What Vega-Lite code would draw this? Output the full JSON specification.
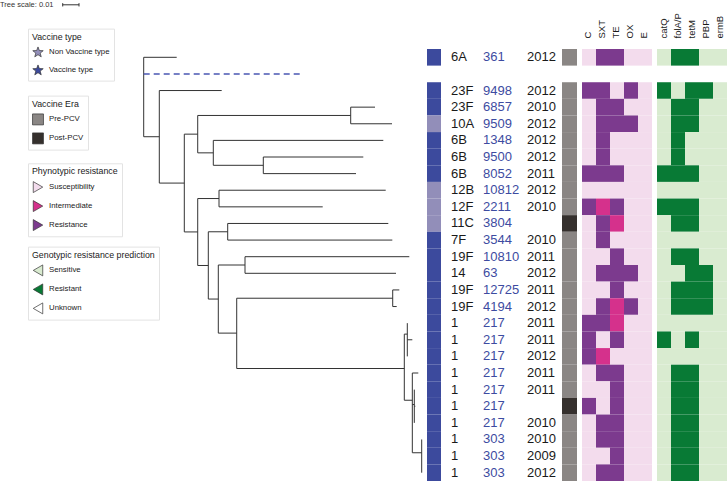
{
  "$schema": "https://vega.github.io/schema/vega-lite/v6.json",
  "padding": 0,
  "background": "white",
  "bounds": "flush",
  "spacing": 0,
  "config": {
    "view": {"stroke": null},
    "font": "Liberation Sans",
    "legend": {
      "titleFontSize": 8.8, "titleFontWeight": "normal", "titleColor": "#1a1a1a",
      "labelFontSize": 7.8, "labelColor": "#1a1a1a", "strokeColor": "#e3e3e3",
      "padding": 4, "symbolSize": 120, "rowPadding": 5, "titlePadding": 5,
      "labelOffset": 5, "symbolStrokeColor": "#333", "symbolStrokeWidth": 0.7
    }
  },
  "datasets": {
    "rows": [
      {"r":-2,"sero":"6A","st":"361","year":"2012","vt":"V","era":"Pre-PCV","C":"S","SXT":"R","TE":"R","OX":"S","E":"S","catQ":"S","folA/P":"R","tetM":"R","PBP":"S","ermB":"S"},
      {"r":0,"sero":"23F","st":"9498","year":"2012","vt":"V","era":"Pre-PCV","C":"R","SXT":"R","TE":"S","OX":"R","E":"S","catQ":"R","folA/P":"S","tetM":"R","PBP":"R","ermB":"S"},
      {"r":1,"sero":"23F","st":"6857","year":"2010","vt":"V","era":"Pre-PCV","C":"S","SXT":"R","TE":"R","OX":"S","E":"S","catQ":"S","folA/P":"R","tetM":"R","PBP":"S","ermB":"S"},
      {"r":2,"sero":"10A","st":"9509","year":"2012","vt":"NV","era":"Pre-PCV","C":"S","SXT":"R","TE":"R","OX":"R","E":"S","catQ":"S","folA/P":"R","tetM":"R","PBP":"S","ermB":"S"},
      {"r":3,"sero":"6B","st":"1348","year":"2012","vt":"V","era":"Pre-PCV","C":"S","SXT":"R","TE":"S","OX":"S","E":"S","catQ":"S","folA/P":"R","tetM":"S","PBP":"S","ermB":"S"},
      {"r":4,"sero":"6B","st":"9500","year":"2012","vt":"V","era":"Pre-PCV","C":"S","SXT":"R","TE":"S","OX":"S","E":"S","catQ":"S","folA/P":"R","tetM":"S","PBP":"S","ermB":"S"},
      {"r":5,"sero":"6B","st":"8052","year":"2011","vt":"V","era":"Pre-PCV","C":"R","SXT":"R","TE":"R","OX":"S","E":"S","catQ":"R","folA/P":"R","tetM":"R","PBP":"S","ermB":"S"},
      {"r":6,"sero":"12B","st":"10812","year":"2012","vt":"NV","era":"Pre-PCV","C":"S","SXT":"S","TE":"S","OX":"S","E":"S","catQ":"S","folA/P":"S","tetM":"S","PBP":"S","ermB":"S"},
      {"r":7,"sero":"12F","st":"2211","year":"2010","vt":"NV","era":"Pre-PCV","C":"R","SXT":"I","TE":"R","OX":"S","E":"S","catQ":"R","folA/P":"R","tetM":"R","PBP":"S","ermB":"S"},
      {"r":8,"sero":"11C","st":"3804","year":"","vt":"NV","era":"Post-PCV","C":"S","SXT":"R","TE":"I","OX":"S","E":"S","catQ":"S","folA/P":"R","tetM":"R","PBP":"S","ermB":"S"},
      {"r":9,"sero":"7F","st":"3544","year":"2010","vt":"V","era":"Pre-PCV","C":"S","SXT":"R","TE":"S","OX":"S","E":"S","catQ":"S","folA/P":"S","tetM":"S","PBP":"S","ermB":"S"},
      {"r":10,"sero":"19F","st":"10810","year":"2011","vt":"V","era":"Pre-PCV","C":"S","SXT":"S","TE":"R","OX":"S","E":"S","catQ":"S","folA/P":"R","tetM":"R","PBP":"S","ermB":"S"},
      {"r":11,"sero":"14","st":"63","year":"2012","vt":"V","era":"Pre-PCV","C":"S","SXT":"R","TE":"R","OX":"R","E":"S","catQ":"S","folA/P":"S","tetM":"R","PBP":"R","ermB":"S"},
      {"r":12,"sero":"19F","st":"12725","year":"2011","vt":"V","era":"Pre-PCV","C":"S","SXT":"S","TE":"R","OX":"S","E":"S","catQ":"S","folA/P":"R","tetM":"R","PBP":"R","ermB":"S"},
      {"r":13,"sero":"19F","st":"4194","year":"2012","vt":"V","era":"Pre-PCV","C":"S","SXT":"R","TE":"I","OX":"R","E":"S","catQ":"S","folA/P":"R","tetM":"R","PBP":"R","ermB":"S"},
      {"r":14,"sero":"1","st":"217","year":"2011","vt":"V","era":"Pre-PCV","C":"R","SXT":"R","TE":"I","OX":"S","E":"S","catQ":"S","folA/P":"S","tetM":"S","PBP":"S","ermB":"S"},
      {"r":15,"sero":"1","st":"217","year":"2011","vt":"V","era":"Pre-PCV","C":"R","SXT":"S","TE":"R","OX":"S","E":"S","catQ":"R","folA/P":"S","tetM":"R","PBP":"S","ermB":"S"},
      {"r":16,"sero":"1","st":"217","year":"2012","vt":"V","era":"Pre-PCV","C":"R","SXT":"I","TE":"S","OX":"S","E":"S","catQ":"S","folA/P":"S","tetM":"S","PBP":"S","ermB":"S"},
      {"r":17,"sero":"1","st":"217","year":"2011","vt":"V","era":"Pre-PCV","C":"S","SXT":"R","TE":"R","OX":"S","E":"S","catQ":"S","folA/P":"R","tetM":"R","PBP":"S","ermB":"S"},
      {"r":18,"sero":"1","st":"217","year":"2011","vt":"V","era":"Pre-PCV","C":"S","SXT":"S","TE":"R","OX":"S","E":"S","catQ":"S","folA/P":"R","tetM":"R","PBP":"S","ermB":"S"},
      {"r":19,"sero":"1","st":"217","year":"","vt":"V","era":"Post-PCV","C":"R","SXT":"S","TE":"R","OX":"S","E":"S","catQ":"S","folA/P":"R","tetM":"R","PBP":"S","ermB":"S"},
      {"r":20,"sero":"1","st":"217","year":"2010","vt":"V","era":"Pre-PCV","C":"S","SXT":"R","TE":"R","OX":"S","E":"S","catQ":"S","folA/P":"R","tetM":"R","PBP":"S","ermB":"S"},
      {"r":21,"sero":"1","st":"303","year":"2010","vt":"V","era":"Pre-PCV","C":"S","SXT":"R","TE":"R","OX":"S","E":"S","catQ":"S","folA/P":"R","tetM":"R","PBP":"S","ermB":"S"},
      {"r":22,"sero":"1","st":"303","year":"2009","vt":"V","era":"Pre-PCV","C":"S","SXT":"S","TE":"R","OX":"S","E":"S","catQ":"S","folA/P":"R","tetM":"R","PBP":"S","ermB":"S"},
      {"r":23,"sero":"1","st":"303","year":"2012","vt":"V","era":"Pre-PCV","C":"S","SXT":"R","TE":"R","OX":"S","E":"S","catQ":"S","folA/P":"R","tetM":"R","PBP":"S","ermB":"S"}
    ],
    "hedges": [
      {"x":0,"x2":0.02025,"y":-2},
      {"x":0,"x2":0.00957,"y":2.78},
      {"x":0.00957,"x2":0.04785,"y":0},
      {"x":0.00957,"x2":0.02491,"y":5.57},
      {"x":0.02491,"x2":0.03313,"y":2.625},
      {"x":0.03313,"x2":0.12699,"y":1.5},
      {"x":0.12699,"x2":0.14190,"y":1},
      {"x":0.12699,"x2":0.15233,"y":2},
      {"x":0.03313,"x2":0.04270,"y":3.75},
      {"x":0.04270,"x2":0.14699,"y":3},
      {"x":0.04270,"x2":0.07337,"y":4.5},
      {"x":0.07337,"x2":0.13472,"y":4},
      {"x":0.07337,"x2":0.13025,"y":5},
      {"x":0.02491,"x2":0.03313,"y":8.51},
      {"x":0.03313,"x2":0.04620,"y":6.5},
      {"x":0.04620,"x2":0.14847,"y":6},
      {"x":0.04620,"x2":0.10982,"y":7},
      {"x":0.03313,"x2":0.03963,"y":10.53},
      {"x":0.03963,"x2":0.05153,"y":8.5},
      {"x":0.05153,"x2":0.15006,"y":8},
      {"x":0.05153,"x2":0.15252,"y":9},
      {"x":0.03963,"x2":0.04577,"y":12.55},
      {"x":0.04577,"x2":0.06215,"y":10.5},
      {"x":0.06215,"x2":0.16294,"y":10},
      {"x":0.06215,"x2":0.15479,"y":11},
      {"x":0.04577,"x2":0.05706,"y":14.6},
      {"x":0.05706,"x2":0.15276,"y":12.5},
      {"x":0.15276,"x2":0.15681,"y":12},
      {"x":0.15276,"x2":0.15521,"y":13},
      {"x":0.05706,"x2":0.15988,"y":16.73},
      {"x":0.15988,"x2":0.16172,"y":14.66},
      {"x":0.16172,"x2":0.16479,"y":15},
      {"x":0.15988,"x2":0.16479,"y":18.64},
      {"x":0.16479,"x2":0.16847,"y":17},
      {"x":0.16479,"x2":0.16601,"y":18.9},
      {"x":0.16601,"x2":0.16663,"y":19},
      {"x":0.16479,"x2":0.17055,"y":21.8}
    ],
    "vedges": [
      {"x":0,"y":-2,"y2":2.78},
      {"x":0.00957,"y":0,"y2":5.57},
      {"x":0.02491,"y":2.625,"y2":8.51},
      {"x":0.03313,"y":1.5,"y2":3.75},
      {"x":0.12699,"y":1,"y2":2},
      {"x":0.04270,"y":3,"y2":4.5},
      {"x":0.07337,"y":4,"y2":5},
      {"x":0.03313,"y":6.5,"y2":10.53},
      {"x":0.04620,"y":6,"y2":7},
      {"x":0.03963,"y":8.5,"y2":12.55},
      {"x":0.05153,"y":8,"y2":9},
      {"x":0.04577,"y":10.5,"y2":14.6},
      {"x":0.06215,"y":10,"y2":11},
      {"x":0.05706,"y":12.5,"y2":16.73},
      {"x":0.15276,"y":12,"y2":13},
      {"x":0.15988,"y":14.66,"y2":18.64},
      {"x":0.16172,"y":14,"y2":16},
      {"x":0.16479,"y":17,"y2":21.8},
      {"x":0.16601,"y":18,"y2":20},
      {"x":0.17055,"y":21,"y2":23}
    ],
    "outgroup": [{"x":0,"x2":0.09773,"y":-1}]
  },
  "resolve": {"scale": {"color": "independent", "x": "independent", "y": "independent"}, "legend": {"color": "independent"}},
  "hconcat": [
    {
      "width": 427, "height": 432,
      "layer": [
        {
          "data": {"name": "hedges"},
          "mark": {"type": "rule", "color": "#333333", "strokeWidth": 1},
          "encoding": {
            "x": {"field": "x", "type": "quantitative", "scale": {"domain": [-0.08816, 0.1738], "nice": false, "zero": false}, "axis": null},
            "x2": {"field": "x2"},
            "y": {"field": "y", "type": "quantitative", "scale": {"domain": [-2.5, 23.5], "reverse": true, "nice": false, "zero": false}, "axis": null}
          }
        },
        {
          "data": {"name": "vedges"},
          "mark": {"type": "rule", "color": "#333333", "strokeWidth": 1},
          "encoding": {
            "x": {"field": "x", "type": "quantitative", "scale": {"domain": [-0.08816, 0.1738], "nice": false, "zero": false}, "axis": null},
            "y": {"field": "y", "type": "quantitative", "scale": {"domain": [-2.5, 23.5], "reverse": true, "nice": false, "zero": false}, "axis": null},
            "y2": {"field": "y2"}
          }
        },
        {
          "data": {"name": "outgroup"},
          "mark": {"type": "rule", "color": "#4a57b3", "strokeWidth": 1.5, "strokeDash": [6, 4]},
          "encoding": {
            "x": {"field": "x", "type": "quantitative", "scale": {"domain": [-0.08816, 0.1738], "nice": false, "zero": false}, "axis": null},
            "x2": {"field": "x2"},
            "y": {"field": "y", "type": "quantitative", "scale": {"domain": [-2.5, 23.5], "reverse": true, "nice": false, "zero": false}, "axis": null}
          }
        },
        {
          "data": {"values": [{"label": "Tree scale: 0.01"}]},
          "mark": {"type": "rule", "color": "#333333", "strokeWidth": 1},
          "encoding": {
            "x": {"datum": -0.04969, "type": "quantitative", "scale": {"domain": [-0.08816, 0.1738], "nice": false, "zero": false}, "axis": null},
            "x2": {"datum": -0.03969},
            "y": {"datum": -5.16, "type": "quantitative", "scale": {"domain": [-2.5, 23.5], "reverse": true, "nice": false, "zero": false}, "axis": null}
          }
        },
        {
          "data": {"values": [{"t": -0.04969}, {"t": -0.03969}]},
          "mark": {"type": "rule", "color": "#333333", "strokeWidth": 1},
          "encoding": {
            "x": {"field": "t", "type": "quantitative", "scale": {"domain": [-0.08816, 0.1738], "nice": false, "zero": false}, "axis": null},
            "y": {"datum": -5.26, "type": "quantitative", "scale": {"domain": [-2.5, 23.5], "reverse": true, "nice": false, "zero": false}, "axis": null},
            "y2": {"datum": -5.06}
          }
        },
        {
          "data": {"values": [{"label": "Tree scale: 0.01"}]},
          "mark": {"type": "text", "align": "left", "baseline": "middle", "fontSize": 7.5, "color": "#333333"},
          "encoding": {
            "x": {"datum": -0.08816, "type": "quantitative", "scale": {"domain": [-0.08816, 0.1738], "nice": false, "zero": false}, "axis": null},
            "y": {"datum": -5.16, "type": "quantitative", "scale": {"domain": [-2.5, 23.5], "reverse": true, "nice": false, "zero": false}, "axis": null},
            "text": {"field": "label"}
          }
        }
      ]
    },
    {
      "width": 24, "height": 432,
      "data": {"name": "rows"},
      "mark": {"type": "rect"},
      "encoding": {
        "x": {"datum": "vt", "type": "nominal", "scale": {"type": "band", "paddingInner": 0, "paddingOuter": 0.35714, "align": 0}, "axis": null},
        "y": {"field": "r", "type": "ordinal", "scale": {"domain": [-2,-1,0,1,2,3,4,5,6,7,8,9,10,11,12,13,14,15,16,17,18,19,20,21,22,23], "paddingInner": 0, "paddingOuter": 0}, "axis": null},
        "color": {
          "field": "vt", "type": "nominal",
          "scale": {"domain": ["NV", "V"], "range": ["#928eb9", "#3c4a9d"]},
          "legend": {
            "title": "Vaccine type", "orient": "none", "legendX": -399, "legendY": -20.4,
            "labelColor": "#1a1a1a", "titleColor": "#1a1a1a",
            "symbolType": "M0,-1L0.247,-0.34L0.951,-0.309L0.399,0.13L0.588,0.809L0,0.42L-0.588,0.809L-0.399,0.13L-0.951,-0.309L-0.247,-0.34Z",
            "labelExpr": "datum.value === 'V' ? 'Vaccine type' : 'Non Vaccine type'",
            "encode": {"symbols": {"update": {"fill": {"signal": "datum.value === 'V' ? '#3b4a9e' : '#8b8b8b'"}, "stroke": {"value": "#333333"}, "strokeWidth": {"value": 0.7}}}}
          }
        }
      }
    },
    {
      "width": 32, "height": 432,
      "data": {"name": "rows"},
      "mark": {"type": "text", "align": "left", "baseline": "middle", "fontSize": 13, "color": "#1a1a1a"},
      "encoding": {
        "x": {"datum": "s", "type": "nominal", "scale": {"type": "band", "paddingInner": 0, "paddingOuter": 0}, "axis": null, "bandPosition": 0},
        "y": {"field": "r", "type": "ordinal", "scale": {"domain": [-2,-1,0,1,2,3,4,5,6,7,8,9,10,11,12,13,14,15,16,17,18,19,20,21,22,23], "paddingInner": 0, "paddingOuter": 0}, "axis": null},
        "text": {"field": "sero"}
      }
    },
    {
      "width": 44, "height": 432,
      "data": {"name": "rows"},
      "mark": {"type": "text", "align": "left", "baseline": "middle", "fontSize": 13, "color": "#3d4ba1"},
      "encoding": {
        "x": {"datum": "st", "type": "nominal", "scale": {"type": "band", "paddingInner": 0, "paddingOuter": 0}, "axis": null, "bandPosition": 0},
        "y": {"field": "r", "type": "ordinal", "scale": {"domain": [-2,-1,0,1,2,3,4,5,6,7,8,9,10,11,12,13,14,15,16,17,18,19,20,21,22,23], "paddingInner": 0, "paddingOuter": 0}, "axis": null},
        "text": {"field": "st"}
      }
    },
    {
      "width": 35, "height": 432,
      "data": {"name": "rows"},
      "mark": {"type": "text", "align": "left", "baseline": "middle", "fontSize": 13, "color": "#1a1a1a"},
      "encoding": {
        "x": {"datum": "yr", "type": "nominal", "scale": {"type": "band", "paddingInner": 0, "paddingOuter": 0}, "axis": null, "bandPosition": 0},
        "y": {"field": "r", "type": "ordinal", "scale": {"domain": [-2,-1,0,1,2,3,4,5,6,7,8,9,10,11,12,13,14,15,16,17,18,19,20,21,22,23], "paddingInner": 0, "paddingOuter": 0}, "axis": null},
        "text": {"field": "year"}
      }
    },
    {
      "width": 20, "height": 432,
      "data": {"name": "rows"},
      "mark": {"type": "rect"},
      "encoding": {
        "x": {"datum": "era", "type": "nominal", "scale": {"type": "band", "paddingInner": 0, "paddingOuter": 0.16667, "align": 0}, "axis": null},
        "y": {"field": "r", "type": "ordinal", "scale": {"domain": [-2,-1,0,1,2,3,4,5,6,7,8,9,10,11,12,13,14,15,16,17,18,19,20,21,22,23], "paddingInner": 0, "paddingOuter": 0}, "axis": null},
        "color": {
          "field": "era", "type": "nominal",
          "scale": {"domain": ["Pre-PCV", "Post-PCV"], "range": ["#8a8684", "#35302d"]},
          "legend": {"title": "Vaccine Era", "orient": "none", "legendX": -534, "legendY": 46.6, "symbolType": "square", "labelColor": "#1a1a1a", "titleColor": "#1a1a1a"}
        }
      }
    },
    {
      "width": 75, "height": 432,
      "data": {"name": "rows"},
      "transform": [{"fold": ["C", "SXT", "TE", "OX", "E"], "as": ["drug", "status"]}],
      "mark": {"type": "rect"},
      "encoding": {
        "x": {"field": "drug", "type": "nominal", "scale": {"type": "band", "domain": ["C", "SXT", "TE", "OX", "E"], "paddingInner": 0, "paddingOuter": 0.17857, "align": 0},
          "axis": {"orient": "top", "title": null, "labelAngle": -90, "domain": false, "ticks": false, "labelPadding": 11, "labelFontSize": 9.5, "labelColor": "#1a1a1a", "labelOffset": -1.5}},
        "y": {"field": "r", "type": "ordinal", "scale": {"domain": [-2,-1,0,1,2,3,4,5,6,7,8,9,10,11,12,13,14,15,16,17,18,19,20,21,22,23], "paddingInner": 0, "paddingOuter": 0}, "axis": null},
        "color": {
          "field": "status", "type": "nominal",
          "scale": {"domain": ["S", "I", "R"], "range": ["#f3dced", "#d5318c", "#7c3a8e"]},
          "legend": {"title": "Phynotypic resistance", "orient": "none", "legendX": -554, "legendY": 114.3, "symbolType": "triangle-right", "labelColor": "#1a1a1a", "titleColor": "#1a1a1a",
            "labelExpr": "{'S': 'Susceptibility', 'I': 'Intermediate', 'R': 'Resistance'}[datum.value]"}
        }
      }
    },
    {
      "width": 70, "height": 432,
      "data": {"name": "rows"},
      "transform": [{"fold": ["catQ", "folA/P", "tetM", "PBP", "ermB"], "as": ["gene", "status"]}],
      "mark": {"type": "rect"},
      "encoding": {
        "x": {"field": "gene", "type": "nominal", "scale": {"type": "band", "domain": ["catQ", "folA/P", "tetM", "PBP", "ermB"], "paddingInner": 0, "paddingOuter": 0},
          "axis": {"orient": "top", "title": null, "labelAngle": -90, "domain": false, "ticks": false, "labelPadding": 11, "labelFontSize": 9.5, "labelColor": "#1a1a1a"}},
        "y": {"field": "r", "type": "ordinal", "scale": {"domain": [-2,-1,0,1,2,3,4,5,6,7,8,9,10,11,12,13,14,15,16,17,18,19,20,21,22,23], "paddingInner": 0, "paddingOuter": 0}, "axis": null},
        "color": {
          "field": "status", "type": "nominal",
          "scale": {"domain": ["S", "R", "U"], "range": ["#d9ebd0", "#087a35", "#ffffff"]},
          "legend": {"title": "Genotypic resistance prediction", "orient": "none", "legendX": -629, "legendY": 197.6, "symbolType": "triangle-left", "labelColor": "#1a1a1a", "titleColor": "#1a1a1a",
            "labelExpr": "{'S': 'Sensitive', 'R': 'Resistant', 'U': 'Unknown'}[datum.value]"}
        }
      }
    }
  ]
}
